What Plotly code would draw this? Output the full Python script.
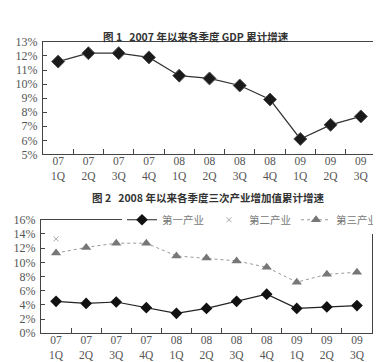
import plotly.graph_objects as go

categories = ["07<br>1Q", "07<br>2Q", "07<br>3Q", "07<br>4Q", "08<br>1Q", "08<br>2Q",
              "08<br>3Q", "08<br>4Q", "09<br>1Q", "09<br>2Q", "09<br>3Q"]
gdp_growth = [11.6, 12.2, 12.2, 11.9, 10.6, 10.4, 9.9, 8.9, 6.1, 7.1, 7.7]
primary = [4.5, 4.2, 4.4, 3.6, 2.8, 3.5, 4.5, 5.5, 3.5, 3.7, 3.9]
secondary = [13.3, None, None, None, None, None, None, None, None, None, None]
tertiary = [11.3, 12.1, 12.7, 12.7, 10.9, 10.6, 10.2, 9.3, 7.2, 8.3, 8.6]
series_names = ["第一产业", "第二产业", "第三产业"]
title1 = "图 1   2007 年以来各季度 GDP 累计增速"
title2 = "图 2   2008 年以来各季度三次产业增加值累计增速"

W, H = 381, 362
serif = "Liberation Serif, Noto Serif CJK SC, serif"
cjk = "Noto Sans CJK SC, sans-serif"

fig = go.Figure()

fig.add_trace(go.Scatter(
    x=categories, y=gdp_growth, mode="lines+markers", showlegend=False,
    line=dict(color="#333333", width=1.2),
    marker=dict(symbol="diamond", size=10, color="#1a1a1a", line=dict(color="#555", width=1)),
    xaxis="x", yaxis="y"))

fig.add_trace(go.Scatter(
    x=categories, y=primary, mode="lines+markers", name=series_names[0],
    line=dict(color="#222222", width=1.2),
    marker=dict(symbol="diamond", size=9, color="#111111"),
    xaxis="x2", yaxis="y2"))
fig.add_trace(go.Scatter(
    x=categories, y=secondary, mode="markers", name=series_names[1],
    marker=dict(symbol="x-thin", size=5, color="#bbbbbb", line=dict(color="#aaaaaa", width=1)),
    xaxis="x2", yaxis="y2"))
fig.add_trace(go.Scatter(
    x=categories, y=tertiary, mode="lines+markers", name=series_names[2],
    line=dict(color="#999999", width=1, dash="dot"),
    marker=dict(symbol="triangle-up", size=9, color="#777777"),
    xaxis="x2", yaxis="y2"))

def px_x(a, b):
    return [a / W, b / W]

def px_y(top, bottom):
    return [(H - bottom) / H, (H - top) / H]

axis_common = dict(showline=True, linecolor="#444444", linewidth=1, mirror=True,
                   showgrid=False, zeroline=False, ticks="inside", tickcolor="#444444")
yfont = dict(family=serif, size=12, color="#555555")
xfont = dict(family=serif, size=11.5, color="#555555")

fig.update_layout(
    width=W, height=H, margin=dict(l=0, r=0, t=0, b=0),
    paper_bgcolor="white", plot_bgcolor="white",
    xaxis=dict(domain=px_x(35, 368), anchor="y", type="category", tickson="boundaries",
               ticklen=5, range=[-0.5, 10.5], tickfont=xfont, ticklabelstandoff=-4,
               **axis_common),
    yaxis=dict(domain=px_y(28, 145), anchor="x", range=[5, 13], dtick=1, ticksuffix="%",
               ticklen=4, tickfont=yfont, ticklabelstandoff=2, **axis_common),
    xaxis2=dict(domain=px_x(33, 364), anchor="y2", type="category", tickson="boundaries",
                ticklen=5, range=[-0.5, 10.5], tickfont=xfont, ticklabelstandoff=-4,
                **axis_common),
    yaxis2=dict(domain=px_y(213, 331), anchor="x2", range=[0, 16], dtick=2, ticksuffix="%",
                ticklen=4, tickfont=yfont, ticklabelstandoff=2, **axis_common),
    legend=dict(orientation="h", x=114 / W, y=(H - 213) / H, xanchor="left", yanchor="middle",
                bgcolor="white", itemwidth=30, tracegroupgap=0,
                entrywidth=42, entrywidthmode="pixels",
                font=dict(family=cjk, size=10.5, color="#777777")),
    annotations=[
        dict(text="<b>" + title1 + "</b>", x=188 / W, y=(H - 13) / H, xref="paper", yref="paper",
             showarrow=False, font=dict(family=cjk, size=10.5, color="#333333")),
        dict(text="<b>" + title2 + "</b>", x=200 / W, y=(H - 190) / H, xref="paper", yref="paper",
             showarrow=False, font=dict(family=cjk, size=10.5, color="#333333")),
    ],
)

fig.write_html("out.html")
